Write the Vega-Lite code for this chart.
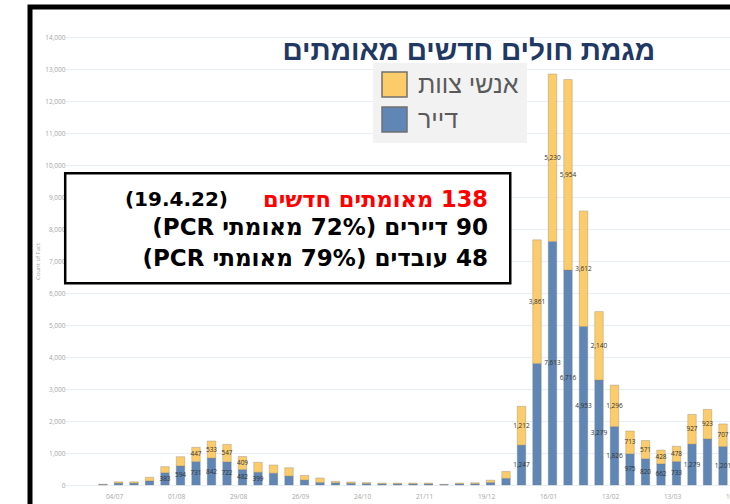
{
  "$schema": "https://vega.github.io/schema/vega-lite/v6.json",
  "autosize": {"type": "none"},
  "width": 700,
  "height": 497,
  "padding": {"left": 30, "top": 7, "right": 0, "bottom": 0},
  "background": "white",
  "config": {
    "view": {"stroke": "black", "strokeWidth": 5, "strokeDash": [700, 1197, 497]},
    "font": "Liberation Sans",
    "axis": {"labelOverlap": false, "labelSeparation": 0},
    "axisY": {"labelOverlap": false, "tickCount": 20}
  },
  "title": {
    "text": "מגמת חולים חדשים מאומתים",
    "anchor": "end",
    "frame": "group",
    "dx": -75,
    "offset": -73,
    "baseline": "middle",
    "fontSize": 28,
    "font": "Liberation Sans",
    "fontWeight": "bold",
    "color": "#1f3864"
  },
  "data": {
    "values": [
      {"week": "27/06", "type": "דייר", "value": 15}, {"week": "27/06", "type": "אנשי צוות", "value": 10},
      {"week": "04/07", "type": "דייר", "value": 60}, {"week": "04/07", "type": "אנשי צוות", "value": 40},
      {"week": "11/07", "type": "דייר", "value": 60}, {"week": "11/07", "type": "אנשי צוות", "value": 40},
      {"week": "18/07", "type": "דייר", "value": 130}, {"week": "18/07", "type": "אנשי צוות", "value": 110},
      {"week": "25/07", "type": "דייר", "value": 383}, {"week": "25/07", "type": "אנשי צוות", "value": 190},
      {"week": "01/08", "type": "דייר", "value": 594}, {"week": "01/08", "type": "אנשי צוות", "value": 290},
      {"week": "08/08", "type": "דייר", "value": 731}, {"week": "08/08", "type": "אנשי צוות", "value": 447},
      {"week": "15/08", "type": "דייר", "value": 842}, {"week": "15/08", "type": "אנשי צוות", "value": 533},
      {"week": "22/08", "type": "דייר", "value": 722}, {"week": "22/08", "type": "אנשי צוות", "value": 547},
      {"week": "29/08", "type": "דייר", "value": 482}, {"week": "29/08", "type": "אנשי צוות", "value": 409},
      {"week": "05/09", "type": "דייר", "value": 399}, {"week": "05/09", "type": "אנשי צוות", "value": 310},
      {"week": "12/09", "type": "דייר", "value": 370}, {"week": "12/09", "type": "אנשי צוות", "value": 255},
      {"week": "19/09", "type": "דייר", "value": 280}, {"week": "19/09", "type": "אנשי צוות", "value": 260},
      {"week": "26/09", "type": "דייר", "value": 155}, {"week": "26/09", "type": "אנשי צוות", "value": 145},
      {"week": "03/10", "type": "דייר", "value": 80}, {"week": "03/10", "type": "אנשי צוות", "value": 140},
      {"week": "10/10", "type": "דייר", "value": 70}, {"week": "10/10", "type": "אנשי צוות", "value": 45},
      {"week": "17/10", "type": "דייר", "value": 55}, {"week": "17/10", "type": "אנשי צוות", "value": 40},
      {"week": "24/10", "type": "דייר", "value": 45}, {"week": "24/10", "type": "אנשי צוות", "value": 30},
      {"week": "31/10", "type": "דייר", "value": 35}, {"week": "31/10", "type": "אנשי צוות", "value": 25},
      {"week": "07/11", "type": "דייר", "value": 35}, {"week": "07/11", "type": "אנשי צוות", "value": 25},
      {"week": "14/11", "type": "דייר", "value": 35}, {"week": "14/11", "type": "אנשי צוות", "value": 25},
      {"week": "21/11", "type": "דייר", "value": 35}, {"week": "21/11", "type": "אנשי צוות", "value": 25},
      {"week": "28/11", "type": "דייר", "value": 12}, {"week": "28/11", "type": "אנשי צוות", "value": 8},
      {"week": "05/12", "type": "דייר", "value": 35}, {"week": "05/12", "type": "אנשי צוות", "value": 25},
      {"week": "12/12", "type": "דייר", "value": 40}, {"week": "12/12", "type": "אנשי צוות", "value": 30},
      {"week": "19/12", "type": "דייר", "value": 80}, {"week": "19/12", "type": "אנשי צוות", "value": 70},
      {"week": "26/12", "type": "דייר", "value": 210}, {"week": "26/12", "type": "אנשי צוות", "value": 215},
      {"week": "02/01", "type": "דייר", "value": 1247}, {"week": "02/01", "type": "אנשי צוות", "value": 1212},
      {"week": "09/01", "type": "דייר", "value": 3800}, {"week": "09/01", "type": "אנשי צוות", "value": 3861},
      {"week": "16/01", "type": "דייר", "value": 7613}, {"week": "16/01", "type": "אנשי צוות", "value": 5230},
      {"week": "23/01", "type": "דייר", "value": 6716}, {"week": "23/01", "type": "אנשי צוות", "value": 5954},
      {"week": "30/01", "type": "דייר", "value": 4953}, {"week": "30/01", "type": "אנשי צוות", "value": 3612},
      {"week": "06/02", "type": "דייר", "value": 3279}, {"week": "06/02", "type": "אנשי צוות", "value": 2140},
      {"week": "13/02", "type": "דייר", "value": 1826}, {"week": "13/02", "type": "אנשי צוות", "value": 1296},
      {"week": "20/02", "type": "דייר", "value": 975}, {"week": "20/02", "type": "אנשי צוות", "value": 713},
      {"week": "27/02", "type": "דייר", "value": 820}, {"week": "27/02", "type": "אנשי צוות", "value": 571},
      {"week": "06/03", "type": "דייר", "value": 662}, {"week": "06/03", "type": "אנשי צוות", "value": 428},
      {"week": "13/03", "type": "דייר", "value": 733}, {"week": "13/03", "type": "אנשי צוות", "value": 478},
      {"week": "20/03", "type": "דייר", "value": 1279}, {"week": "20/03", "type": "אנשי צוות", "value": 927},
      {"week": "27/03", "type": "דייר", "value": 1440}, {"week": "27/03", "type": "אנשי צוות", "value": 923},
      {"week": "03/04", "type": "דייר", "value": 1201}, {"week": "03/04", "type": "אנשי צוות", "value": 707}
    ]
  },
  "layer": [
    {
      "mark": {"type": "bar", "stroke": "#7f7f7f", "strokeWidth": 0.5, "strokeOpacity": 0.7},
      "encoding": {
        "x": {
          "field": "week",
          "type": "ordinal",
          "title": null,
          "scale": {
            "domain": ["13/06", "20/06", "27/06", "04/07", "11/07", "18/07", "25/07", "01/08", "08/08", "15/08", "22/08", "29/08", "05/09", "12/09", "19/09", "26/09", "03/10", "10/10", "17/10", "24/10", "31/10", "07/11", "14/11", "21/11", "28/11", "05/12", "12/12", "19/12", "26/12", "02/01", "09/01", "16/01", "23/01", "30/01", "06/02", "13/02", "20/02", "27/02", "06/03", "13/03", "20/03", "27/03", "03/04", "10/04", "17/04"],
            "range": [34.25, 731.75],
            "paddingInner": 0.452,
            "paddingOuter": 0.226
          },
          "axis": {
            "values": ["04/07", "01/08", "29/08", "26/09", "24/10", "21/11", "19/12", "16/01", "13/02", "13/03", "10/04"],
            "labelOffset": -4,
            "ticks": false,
            "domain": false,
            "grid": false,
            "labelAngle": 0,
            "labelOverlap": false,
            "labelFontSize": 6.5,
            "labelFont": "Open Sans",
            "labelColor": "#a6a6a6",
            "labelPadding": 4,
            "offset": -15
          }
        },
        "y": {
          "field": "value",
          "type": "quantitative",
          "stack": "zero",
          "title": "Count of Fact",
          "scale": {"domain": [0, 14000], "range": [478, 30], "nice": false},
          "axis": {
            "values": [0, 1000, 2000, 3000, 4000, 5000, 6000, 7000, 8000, 9000, 10000, 11000, 12000, 13000, 14000],
            "tickCount": 20,
            "format": ",d",
            "offset": -38,
            "labelPadding": 3,
            "labelOverlap": false,
            "labelSeparation": 0,
            "ticks": false,
            "domain": false,
            "grid": true,
            "gridColor": "#e8eef7",
            "labelFontSize": 6.5,
            "labelFont": "Open Sans",
            "labelColor": "#a6a6a6",
            "titleFontSize": 6,
            "titleFont": "Open Sans",
            "titleFontWeight": "normal",
            "titleColor": "#a6a6a6",
            "titlePadding": 4
          }
        },
        "color": {
          "field": "type",
          "type": "nominal",
          "scale": {"domain": ["אנשי צוות", "דייר"], "range": ["#fdcc6a", "#5f86b4"]},
          "legend": {
            "title": null,
            "orient": "none",
            "legendX": 343,
            "legendY": 56,
            "fillColor": "#f2f2f2",
            "padding": 8,
            "symbolType": "square",
            "symbolSize": 625,
            "symbolStrokeColor": "#707070",
            "symbolStrokeWidth": 1.5,
            "symbolOpacity": 1,
            "labelFontSize": 25,
            "labelFont": "Liberation Sans",
            "labelColor": "#5a5a5a",
            "rowPadding": 4,
            "labelOffset": 10
          }
        },
        "order": {"field": "type", "sort": "descending"}
      }
    },
    {
      "transform": [
        {"stack": "value", "groupby": ["week"], "sort": [{"field": "type", "order": "descending"}], "as": ["v0", "v1"]},
        {"fold": ["v0", "v1"], "as": ["k", "pos"]},
        {"aggregate": [{"op": "mean", "field": "pos", "as": "mid"}], "groupby": ["week", "type", "value"]},
        {"filter": "datum.value >= 380 && !(datum.type == 'דייר' && (datum.week == '09/01' || datum.week == '27/03'))"}
      ],
      "mark": {"type": "text", "fontSize": 6.5, "font": "Open Sans", "color": "#333333"},
      "encoding": {
        "x": {"field": "week", "type": "ordinal"},
        "y": {"field": "mid", "type": "quantitative"},
        "text": {"field": "value", "type": "quantitative", "format": ",d"}
      }
    },
    {
      "data": {"values": [{}]},
      "mark": {"type": "rect", "fill": "white", "stroke": "black", "strokeWidth": 2.5},
      "encoding": {
        "x": {"datum": "13/06", "type": "ordinal", "bandPosition": -0.3},
        "x2": {"datum": "26/12", "bandPosition": 1},
        "y": {"datum": 9741, "type": "quantitative"},
        "y2": {"datum": 6303}
      }
    },
    {
      "data": {"values": [{}]},
      "mark": {"type": "text", "align": "right", "baseline": "middle", "dx": -2.5, "fontSize": 22.5, "fontWeight": "bold", "font": "DejaVu Sans", "color": "#ff0000"},
      "encoding": {
        "x": {"datum": "19/12", "type": "ordinal"},
        "y": {"datum": 8906, "type": "quantitative"},
        "text": {"value": "\u202B138 מאומתים חדשים\u202C"}
      }
    },
    {
      "data": {"values": [{}]},
      "mark": {"type": "text", "align": "right", "baseline": "middle", "dx": -262.5, "fontSize": 20, "fontWeight": "bold", "font": "DejaVu Sans", "color": "#000000"},
      "encoding": {
        "x": {"datum": "19/12", "type": "ordinal"},
        "y": {"datum": 8906, "type": "quantitative"},
        "text": {"value": "(19.4.22)"}
      }
    },
    {
      "data": {"values": [{}]},
      "mark": {"type": "text", "align": "right", "baseline": "middle", "dx": -2.5, "fontSize": 23, "fontWeight": "bold", "font": "DejaVu Sans", "color": "#000000"},
      "encoding": {
        "x": {"datum": "19/12", "type": "ordinal"},
        "y": {"datum": 8031, "type": "quantitative"},
        "text": {"value": "\u202B90 דיירים (72% מאומתי PCR)\u202C"}
      }
    },
    {
      "data": {"values": [{}]},
      "mark": {"type": "text", "align": "right", "baseline": "middle", "dx": -2.5, "fontSize": 23, "fontWeight": "bold", "font": "DejaVu Sans", "color": "#000000"},
      "encoding": {
        "x": {"datum": "19/12", "type": "ordinal"},
        "y": {"datum": 7062, "type": "quantitative"},
        "text": {"value": "\u202B48 עובדים (79% מאומתי PCR)\u202C"}
      }
    }
  ]
}
